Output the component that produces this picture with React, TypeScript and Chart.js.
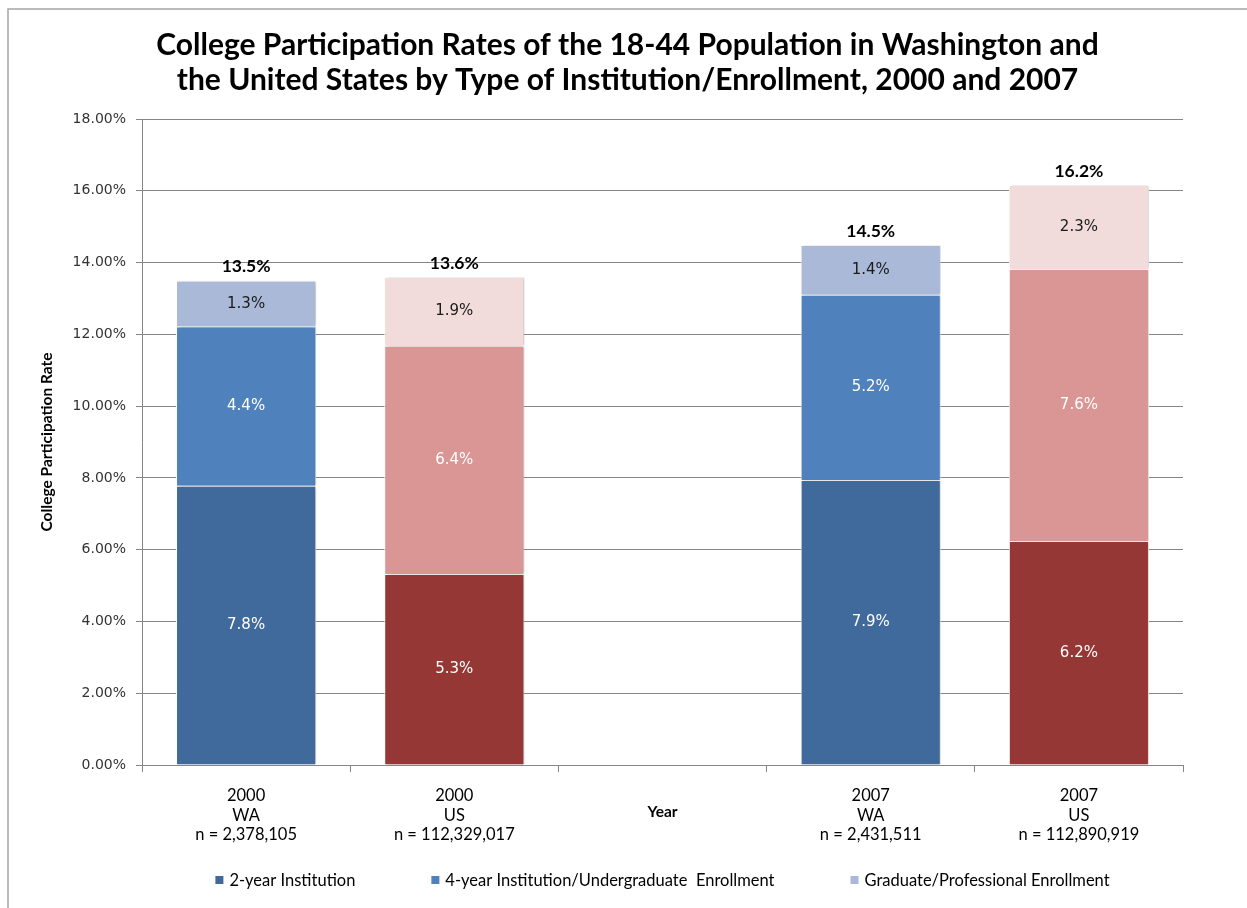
import { useEffect, useRef } from "react";
import { Chart, registerables } from "chart.js";

Chart.register(...registerables);

// ---- data ----
const categories: string[][] = [
  ["2000", "WA", "n = 2,378,105"],
  ["2000", "US", "n = 112,329,017"],
  ["", "Year"],
  ["2007", "WA", "n = 2,431,511"],
  ["2007", "US", "n = 112,890,919"],
];
const regions = ["WA", "US", "", "WA", "US"];
const seriesNames = [
  "2-year Institution",
  "4-year Institution/Undergraduate  Enrollment",
  "Graduate/Professional Enrollment",
];
const twoYear = [7.78, 5.32, null, 7.94, 6.24];
const fourYear = [4.44, 6.36, null, 5.16, 7.58];
const graduate = [1.27, 1.92, null, 1.39, 2.34];
const yMax = 18;
const yStep = 2;

const waColors = ["#40699C", "#4F81BD", "#AAB9D7"];
const usColors = ["#953735", "#D99694", "#F2DBDB"];

const series = [twoYear, fourYear, graduate];

const LEGEND_FONT = '16.5px Lato';

const framePlugin = {
  id: "frame",
  beforeDraw(chart: any) {
    const ctx = chart.ctx;
    ctx.save();
    ctx.strokeStyle = "#A5A5A5";
    ctx.lineWidth = 1.5;
    ctx.beginPath();
    ctx.moveTo(8, chart.height);
    ctx.lineTo(8, 9);
    ctx.lineTo(chart.width, 9);
    ctx.stroke();
    ctx.restore();
  },
};

const legendPlugin = {
  id: "customLegend",
  afterDraw(chart: any) {
    const ctx = chart.ctx;
    const area = chart.chartArea;
    ctx.save();
    ctx.font = LEGEND_FONT;
    ctx.textBaseline = "middle";
    ctx.textAlign = "left";
    const box = 8;
    const gapText = 6;
    const gapItem = 76;
    const widths = seriesNames.map((n) => box + gapText + ctx.measureText(n).width);
    const total = widths.reduce((a, b) => a + b, 0) + gapItem * (widths.length - 1);
    let x = (area.left + area.right) / 2 - total / 2;
    const cy = 880;
    seriesNames.forEach((n, k) => {
      ctx.fillStyle = waColors[k];
      ctx.fillRect(x, cy - box / 2, box, box);
      ctx.fillStyle = "#000000";
      ctx.fillText(n, x + box + gapText, cy + 1);
      x += widths[k] + gapItem;
    });
    ctx.restore();
  },
};

const barDecorPlugin = {
  id: "barDecor",
  beforeDatasetsDraw(chart: any) {
    const ctx = chart.ctx;
    ctx.save();
    ctx.shadowColor = "rgba(0,0,0,0.28)";
    ctx.shadowBlur = 3;
    ctx.shadowOffsetX = 1.5;
    ctx.shadowOffsetY = 0;
  },
  afterDatasetsDraw(chart: any) {
    const ctx = chart.ctx;
    ctx.restore();
    ctx.save();
    ctx.textAlign = "center";
    ctx.textBaseline = "middle";
    ctx.font = '15px "DejaVu Sans"';
    chart.data.datasets.forEach((ds: any, di: number) => {
      const meta = chart.getDatasetMeta(di);
      meta.data.forEach((el: any, i: number) => {
        const v = ds.data[i];
        if (v == null) return;
        const p = el.getProps(["x", "y", "base"], true);
        ctx.fillStyle = di < 2 ? "#FFFFFF" : "#1a1a1a";
        ctx.fillText(v.toFixed(1) + "%", p.x, (p.y + p.base) / 2);
      });
    });
    const topMeta = chart.getDatasetMeta(2);
    ctx.font = 'bold 17.5px Lato';
    ctx.fillStyle = "#000000";
    categories.forEach((_, i) => {
      const vals = series.map((s) => s[i]);
      if (vals.some((v) => v == null)) return;
      const total = (vals as number[]).reduce((a, b) => a + b, 0);
      const el = topMeta.data[i];
      const p = el.getProps(["x", "y"], true);
      ctx.fillText(total.toFixed(1) + "%", p.x, p.y - 14);
    });
    ctx.restore();
  },
};

export default function App() {
  const ref = useRef<HTMLCanvasElement | null>(null);

  useEffect(() => {
    if (!ref.current) return;
    const chart = new Chart(ref.current, {
      type: "bar",
      data: {
        labels: categories,
        datasets: series.map((s, k) => ({
          label: seriesNames[k],
          data: s,
          yAxisID: "y",
          backgroundColor: regions.map((r) => (r === "US" ? usColors[k] : waColors[k])),
          borderColor: "#FFFFFF",
          borderWidth: 1,
          barPercentage: 0.673,
          categoryPercentage: 1,
        })),
      },
      options: {
        responsive: false,
        animation: false,
        devicePixelRatio: 1,
        layout: { padding: { left: 10, right: 2, top: 0, bottom: 45.5 } },
        plugins: {
          tooltip: { enabled: false },
          legend: { display: false },
          title: {
            display: true,
            text: [
              "College Participation Rates of the 18-44 Population in Washington and",
              "the United States by Type of Institution/Enrollment, 2000 and 2007",
            ],
            color: "#000000",
            font: { family: "Lato", size: 30, weight: "bold", lineHeight: 1.19 },
            padding: { top: 27, bottom: 20.6 },
          },
        },
        scales: {
          x: {
            stacked: true,
            offset: true,
            afterFit: (s: any) => {
              s.height = 97.5;
            },
            grid: {
              display: true,
              drawOnChartArea: false,
              drawTicks: true,
              tickLength: 7,
              offset: true,
              color: "#868686",
            },
            border: { color: "#868686", width: 1 },
            ticks: {
              padding: 14.25,
              color: "#000000",
              maxRotation: 0,
              autoSkip: false,
              font: (c: any) =>
                c.index === 2
                  ? { family: "Lato", size: 15.5, weight: "bold", lineHeight: 1.11 }
                  : { family: "Lato", size: 16.5, lineHeight: 1.18 },
            },
          },
          y: {
            stacked: true,
            min: 0,
            max: yMax,
            afterFit: (s: any) => {
              s.width = 132;
            },
            grid: {
              color: "#868686",
              tickLength: 6,
              drawTicks: true,
            },
            border: { color: "#868686", width: 1 },
            ticks: {
              stepSize: yStep,
              padding: 10,
              color: "#333333",
              font: { family: "DejaVu Sans", size: 14 },
              callback: (v: any) => Number(v).toFixed(2) + "%",
            },
            title: {
              display: true,
              text: "College Participation Rate",
              color: "#000000",
              font: { family: "Lato", size: 15.5, weight: "bold", lineHeight: 1.2 },
              padding: { top: 27.7, bottom: 0 },
            },
          },
          yPad: {
            type: "linear",
            position: "right",
            display: true,
            afterFit: (s: any) => {
              s.width = 62;
            },
            grid: { display: false, drawOnChartArea: false, drawTicks: false },
            border: { display: false },
            ticks: { display: false },
          },
        },
      },
      plugins: [framePlugin, barDecorPlugin, legendPlugin],
    });
    return () => chart.destroy();
  }, []);

  return (
    <div style={{ position: "absolute", left: 0, top: 0, width: 1247, height: 908, background: "#fff" }}>
      <canvas ref={ref} width={1247} height={908} style={{ display: "block" }} />
    </div>
  );
}
